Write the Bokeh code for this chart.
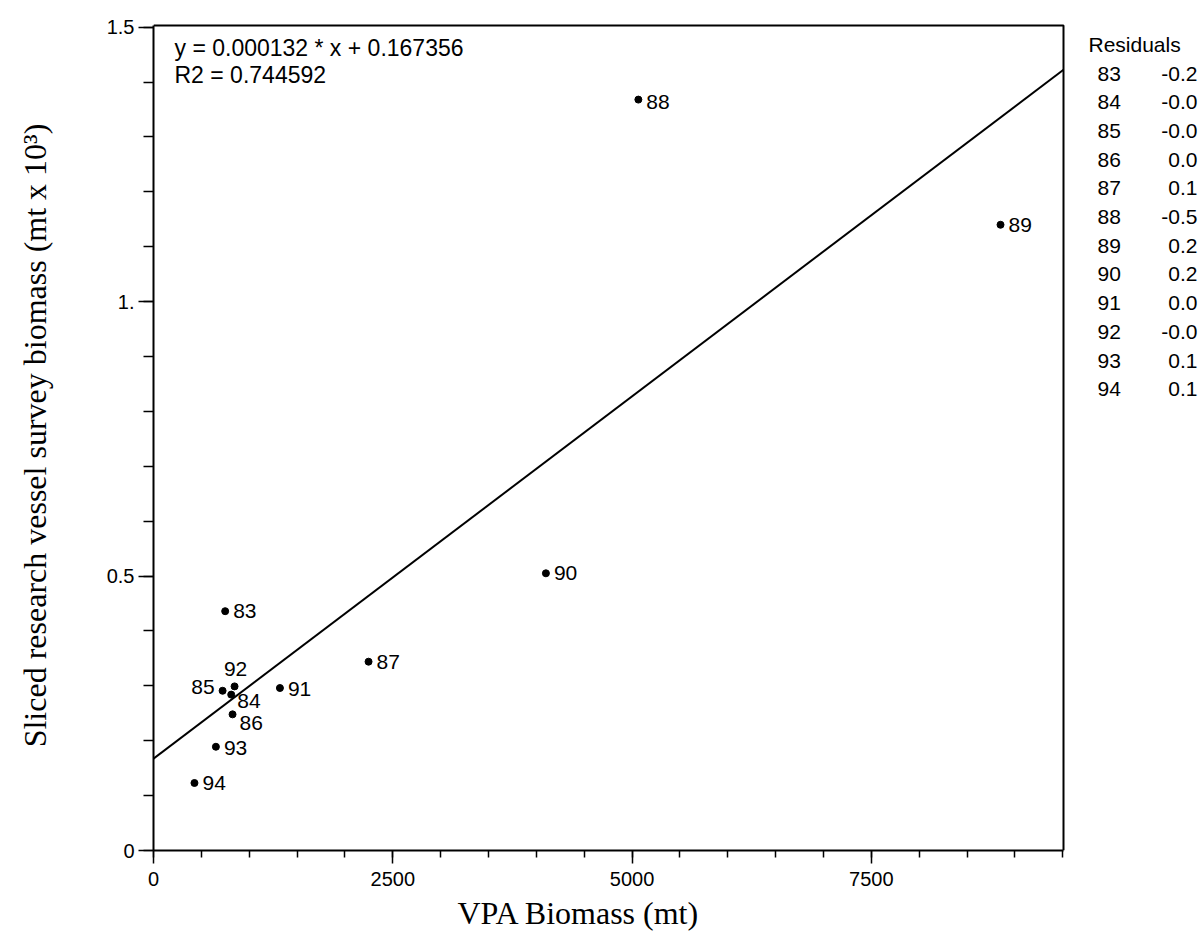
from bokeh.plotting import figure
from bokeh.models import FixedTicker, Label, ColumnDataSource, Range1d, Title
from bokeh.embed import file_html
from bokeh.resources import INLINE
from bokeh.core.properties import value

# ---- data ----
years = ["83", "84", "85", "86", "87", "88", "89", "90", "91", "92", "93", "94"]
vpa_biomass = [749, 812, 722, 826, 2247, 5066, 8850, 4100, 1321, 847, 652, 428]
survey_biomass = [0.436, 0.284, 0.291, 0.248, 0.344, 1.368, 1.14, 0.505, 0.296, 0.299, 0.189, 0.123]
residuals = ["-0.2", "-0.0", "-0.0", "0.0", "0.1", "-0.5", "0.2", "0.2", "0.0", "-0.0", "0.1", "0.1"]
slope = 0.000132
intercept = 0.167356
r2 = 0.744592

x_ticks = [0, 2500, 5000, 7500]
x_minor = [v * 500 for v in range(0, 20)]
y_ticks = [0, 0.5, 1, 1.5]
y_tick_labels = ["0", "0.5", "1.", "1.5"]
y_minor = [v / 10 for v in range(0, 16)]

# label placement (screen px offsets / alignment)
lab_align = ["left", "left", "right", "left", "left", "left", "left", "left", "left", "center", "left", "left"]
lab_dx = [8, 6, -8, 7, 8, 8, 8, 8, 8, 1, 8, 8]
lab_dy = [0, 6, -4, 9, 0, 2, 0, 0, 1, -17, 1, 0]

# geometry (pixels)
W, H = 1204, 949
LEFT, AXIS_RIGHT, TOP, BOTTOM = 153, 1063, 20, 850
X_AXIS_END = 9508          # x value at the right border of the plot box
Y_AXIS_END = 1.503         # y value at the top border of the plot box
px_per_x = (AXIS_RIGHT - LEFT) / X_AXIS_END
px_per_y = 825.0 / Y_AXIS_END
X_RANGE_END = (W - LEFT) / px_per_x
Y_RANGE_END = (BOTTOM - TOP) / px_per_y

SANS = "Liberation Sans"
SERIF = "Liberation Serif"

p = figure(width=W, height=H, output_backend="svg", toolbar_location=None,
           x_range=Range1d(0, X_RANGE_END), y_range=Range1d(0, Y_RANGE_END),
           min_border_left=LEFT, min_border_right=0, min_border_top=TOP,
           min_border_bottom=H - BOTTOM)
p.grid.visible = False
p.background_fill_color = "white"
p.border_fill_color = "white"
p.outline_line_color = None

# axes
p.xaxis.ticker = FixedTicker(ticks=x_ticks, minor_ticks=x_minor)
p.yaxis.ticker = FixedTicker(ticks=y_ticks, minor_ticks=y_minor)
p.yaxis.major_label_overrides = {t: s for t, s in zip(y_ticks, y_tick_labels)}
p.xaxis.bounds = (0, X_AXIS_END)
p.yaxis.bounds = (0, Y_AXIS_END)
for ax in (p.xaxis, p.yaxis):
    ax.axis_line_width = 2
    ax.axis_line_color = "black"
    ax.major_tick_line_color = "black"
    ax.minor_tick_line_color = "black"
    ax.major_tick_line_width = 1.5
    ax.minor_tick_line_width = 1.5
    ax.major_tick_in = 0
    ax.minor_tick_in = 0
    ax.major_label_text_font = SANS
    ax.major_label_text_font_size = "20px"
    ax.major_label_text_color = "black"

p.xaxis.major_tick_out = 13
p.xaxis.minor_tick_out = 7
p.xaxis.major_label_standoff = 8

p.yaxis.major_tick_out = 15
p.yaxis.minor_tick_out = 10
p.yaxis.major_label_standoff = 4
p.yaxis.axis_label = "Sliced research vessel survey biomass (mt x 10\u00b3)"
p.yaxis.axis_label_standoff = 51
p.yaxis.axis_label_text_font = SERIF
p.yaxis.axis_label_text_font_style = "normal"
p.yaxis.axis_label_text_font_size = "32px"
p.yaxis.axis_label_text_color = "black"

# x axis title, placed below the axis
p.add_layout(Title(text="VPA Biomass (mt)", align="left", offset=304, standoff=9,
                   text_font=SERIF, text_font_size="32px", text_font_style="normal",
                   text_color="black"), "below")

# top and right border of the plot box
p.line([0, X_AXIS_END, X_AXIS_END], [Y_AXIS_END, Y_AXIS_END, 0], line_color="black", line_width=2)

# regression line
p.line([0, X_AXIS_END], [intercept, intercept + slope * X_AXIS_END], line_color="black", line_width=2)

# points
src = ColumnDataSource(dict(x=vpa_biomass, y=survey_biomass, t=years,
                            align=lab_align, dx=lab_dx, dy=lab_dy))
p.scatter("x", "y", source=src, size=7, color="black")
p.text("x", "y", text="t", source=src, text_align="align", x_offset="dx", y_offset="dy",
       text_baseline="middle", text_font=value(SANS), text_font_size="21px", text_color="black")


def dx(page_x):
    return (page_x - LEFT) / px_per_x


def dy(page_y):
    return (BOTTOM - page_y) / px_per_y


# equation annotation
eq_lines = ["y = %.6f * x + %.6f" % (slope, intercept), "R2 = %.6f" % r2]
for i, s in enumerate(eq_lines):
    p.add_layout(Label(x=dx(174), y=dy(47 + 27 * i), text=s, text_font=SANS, text_font_size="23px",
                       text_baseline="middle", text_align="left", text_color="black"))

# residual table
p.add_layout(Label(x=dx(1088), y=dy(44), text="Residuals", text_font=SANS, text_font_size="21px",
                   text_baseline="middle", text_align="left", text_color="black"))
for i, (yr, rv) in enumerate(zip(years, residuals)):
    yy = dy(73 + 28.7 * i)
    p.add_layout(Label(x=dx(1097), y=yy, text=yr, text_font=SANS, text_font_size="21px",
                       text_baseline="middle", text_align="left", text_color="black"))
    p.add_layout(Label(x=dx(1197), y=yy, text=rv, text_font=SANS, text_font_size="21px",
                       text_baseline="middle", text_align="right", text_color="black"))

open("out.html", "w").write(file_html(p, INLINE))
